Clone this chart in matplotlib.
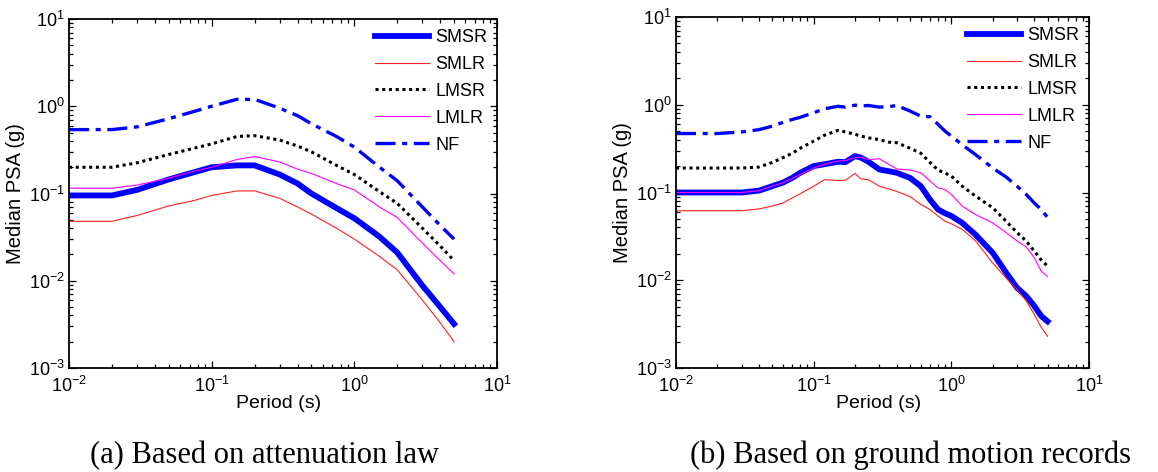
import matplotlib
matplotlib.use("Agg")
import matplotlib.pyplot as plt

plt.rcParams['font.family'] = ['Liberation Sans', 'DejaVu Sans']
plt.rcParams['mathtext.fontset'] = 'custom'
plt.rcParams['mathtext.rm'] = 'Liberation Sans'
plt.rcParams['mathtext.it'] = 'Liberation Sans:italic'
plt.rcParams['mathtext.bf'] = 'Liberation Sans:bold'

# ---- (a) spectra from the attenuation law ----
period_a = [0.01, 0.02, 0.03, 0.05, 0.075, 0.1, 0.15, 0.2, 0.3, 0.4, 0.5,
            0.75, 1.0, 1.5, 2.0, 3.0, 4.0, 5.0]
smsr_a = [0.095, 0.095, 0.11, 0.145, 0.175, 0.2, 0.21, 0.21, 0.165, 0.13, 0.10,
          0.068, 0.052, 0.032, 0.021, 0.0088, 0.005, 0.0032]
smlr_a = [0.048, 0.048, 0.056, 0.072, 0.083, 0.095, 0.107, 0.107, 0.088, 0.07, 0.058,
          0.04, 0.03, 0.019, 0.0133, 0.006, 0.0033, 0.002]
lmsr_a = [0.2, 0.2, 0.225, 0.28, 0.33, 0.37, 0.45, 0.46, 0.41, 0.35, 0.3,
          0.21, 0.165, 0.105, 0.077, 0.04, 0.025, 0.017]
lmlr_a = [0.115, 0.115, 0.125, 0.15, 0.18, 0.2, 0.245, 0.265, 0.23, 0.19, 0.17,
          0.13, 0.11, 0.07, 0.053, 0.027, 0.017, 0.012]
nf_a = [0.54, 0.54, 0.58, 0.72, 0.87, 1.0, 1.2, 1.2, 0.95, 0.78, 0.63,
        0.45, 0.34, 0.2, 0.14, 0.07, 0.043, 0.03]

# ---- (b) spectra from ground motion records ----
period_b = [0.01, 0.02, 0.03, 0.04, 0.05, 0.06, 0.07, 0.08, 0.1, 0.12, 0.15, 0.17,
            0.2, 0.22, 0.25, 0.3, 0.35, 0.4, 0.5, 0.6, 0.7, 0.8, 0.9, 1.0,
            1.2, 1.5, 2.0, 2.5, 3.0, 3.5, 4.0, 4.5, 5.0]
smsr_b = [0.1, 0.1, 0.1, 0.105, 0.118, 0.13, 0.147, 0.168, 0.2, 0.21, 0.224, 0.222,
          0.26, 0.25, 0.224, 0.183, 0.175, 0.168, 0.147, 0.118, 0.083, 0.064, 0.058, 0.054,
          0.045, 0.033, 0.0205, 0.0122, 0.0082, 0.0066, 0.0051, 0.0039, 0.0034]
smlr_b = [0.062, 0.062, 0.062, 0.065, 0.07, 0.076, 0.087, 0.097, 0.118, 0.14, 0.137, 0.138,
          0.165, 0.143, 0.14, 0.118, 0.11, 0.103, 0.09, 0.073, 0.064, 0.054, 0.047, 0.044,
          0.038, 0.028, 0.0157, 0.0106, 0.0078, 0.0058, 0.0041, 0.0029, 0.0023]
lmsr_b = [0.19, 0.19, 0.19, 0.195, 0.22, 0.25, 0.28, 0.32, 0.385, 0.45, 0.51, 0.49,
          0.46, 0.44, 0.42, 0.40, 0.375, 0.37, 0.32, 0.28, 0.22, 0.18, 0.167, 0.154,
          0.118, 0.091, 0.067, 0.047, 0.035, 0.028, 0.0215, 0.017, 0.0145]
lmlr_b = [0.1, 0.1, 0.1, 0.105, 0.118, 0.13, 0.145, 0.16, 0.19, 0.21, 0.228, 0.232,
          0.25, 0.25, 0.238, 0.242, 0.21, 0.186, 0.18, 0.168, 0.135, 0.113, 0.108, 0.095,
          0.07, 0.056, 0.045, 0.035, 0.028, 0.024, 0.018, 0.0127, 0.011]
nf_b = [0.47, 0.47, 0.49, 0.52, 0.57, 0.63, 0.68, 0.72, 0.81, 0.90, 0.96, 0.94,
        0.99, 0.97, 0.98, 0.94, 0.95, 0.98, 0.85, 0.74, 0.73, 0.60, 0.50, 0.44,
        0.35, 0.27, 0.19, 0.15, 0.118, 0.095, 0.076, 0.064, 0.052]

labels = ['SMSR', 'SMLR', 'LMSR', 'LMLR', 'NF']
styles = [dict(color='#0000ff', lw=4.2, ls='-'),
          dict(color='#ff2020', lw=0.8, ls='-'),
          dict(color='black', lw=2.2, ls=(0, (1, 1.2))),
          dict(color='#ff00ff', lw=0.8, ls='-'),
          dict(color='#0000ff', lw=2.4, ls=(0, (6, 2, 1.5, 2)))]

W, H = 1158, 472
fig = plt.figure(figsize=(W / 100, H / 100), dpi=100)

panels = [
    ((69, 19, 497, 368), period_a, [smsr_a, smlr_a, lmsr_a, lmlr_a, nf_a],
     '(a) Based on attenuation law', 265),
    ((676, 17, 1089, 368), period_b, [smsr_b, smlr_b, lmsr_b, lmlr_b, nf_b],
     '(b) Based on ground motion records', 910),
]

for (x0, y0, x1, y1), per, series, caption, cx in panels:
    h = y1 - y0
    ax = fig.add_axes([x0 / W, 1 - y1 / H, (x1 - x0) / W, h / H])
    for vals, lab, st in zip(series, labels, styles):
        ax.plot(per, vals, label=lab, **st)
    ax.set_xscale('log')
    ax.set_yscale('log')
    ax.set_xlim(1e-2, 1e1)
    ax.set_ylim(1e-3, 1e1)
    ax.tick_params(which='both', direction='in', top=True, right=True,
                   labelsize=13, width=0.9)
    ax.tick_params(which='major', length=5, pad=6)
    ax.tick_params(axis='y', which='major', pad=3)
    ax.tick_params(which='minor', length=3)
    for sp in ax.spines.values():
        sp.set_linewidth(1.3)
    ax.set_xlabel('Period (s)', fontsize=14)
    ax.xaxis.label.set_va('baseline')
    ax.xaxis.set_label_coords(0.49, -40 / h)
    ax.set_ylabel('Median PSA (g)', fontsize=14.5, labelpad=3)
    ax.legend(loc='upper right', frameon=False, fontsize=13,
              handlelength=3.0, handletextpad=0.35, labelspacing=0.55,
              borderaxespad=0.25, borderpad=0.3)
    fig.text(cx / W, 1 - 463 / H, caption, ha='center', va='baseline',
             fontsize=22, family=['Liberation Serif', 'DejaVu Serif'])

fig.savefig('out.png', dpi=100)
